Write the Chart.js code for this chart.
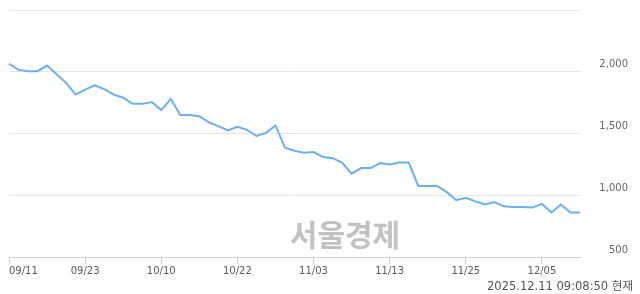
<!DOCTYPE html>
<html>
<head>
<meta charset="utf-8">
<script src="https://cdn.jsdelivr.net/npm/chart.js@4"></script>
<style>
  html, body { margin: 0; padding: 0; background: #fff; }
  #wrap { position: relative; width: 640px; height: 294px; overflow: hidden; }
  #c { position: absolute; left: 0; top: 0; }
  #wm { position: absolute; left: 245px; top: 215px; width: 200px; text-align: center;
        font-family: "Noto Sans CJK KR", sans-serif; font-weight: 700; font-size: 30px;
        line-height: 36px; color: #c2c2c2; }
  #ts { position: absolute; right: 7px; top: 279px; font-family: "DejaVu Sans", "Noto Sans CJK KR", sans-serif;
        font-size: 11.5px; line-height: 14px; color: #555; white-space: nowrap; }
</style>
</head>
<body>
<div id="wrap">
  <canvas id="c" width="640" height="294"></canvas>
  <div id="wm">서울경제</div>
  <div id="ts">2025.12.11 09:08:50 현재</div>
</div>
<script>
const dates = [
  '09/11','09/12','09/15','09/16','09/17','09/18','09/19','09/22','09/23','09/24','09/25','09/26','09/29','09/30',
  '10/01','10/02','10/10','10/13','10/14','10/15','10/16','10/17','10/20','10/21','10/22','10/23','10/24','10/27','10/28','10/29','10/30','10/31',
  '11/03','11/04','11/05','11/06','11/07','11/10','11/11','11/12','11/13','11/14','11/17','11/18','11/19','11/20','11/21','11/24','11/25','11/26','11/27','11/28',
  '12/01','12/02','12/03','12/04','12/05','12/08','12/09','12/10','12/11'
];
const prices = [
  2065, 2015, 2005, 2005, 2050, 1980, 1910, 1815, 1855, 1890,
  1860, 1815, 1790, 1740, 1740, 1755, 1690, 1780, 1650, 1650,
  1640, 1590, 1560, 1525, 1555, 1530, 1480, 1505, 1565, 1385,
  1360, 1345, 1350, 1310, 1300, 1265, 1175, 1220, 1220, 1260,
  1250, 1265, 1265, 1075, 1075, 1075, 1025, 960, 980, 950,
  925, 945, 910, 905, 905, 900, 930, 860, 925, 860, 860
];
const xTickLabels = ['09/11','09/23','10/10','10/22','11/03','11/13','11/25','12/05'];
const yTickValues = [500, 1000, 1500, 2000, 2500];
const yLabelValues = [500, 1000, 1500, 2000];

const AXIS_COLOR = '#c6d1e6';
const TICK_FONT = { family: '"DejaVu Sans", sans-serif', size: 10 };
const TICK_COLOR = '#5a5a5a';
const X_PAD = 1;

const firstLabelPlugin = {
  id: 'firstLabel',
  afterDraw(chart) {
    const xs = chart.scales.x;
    const idx = dates.indexOf(xTickLabels[0]);
    const px = xs.getPixelForValue(idx);
    const ctx = chart.ctx;
    ctx.save();
    ctx.font = TICK_FONT.size + 'px ' + TICK_FONT.family;
    ctx.fillStyle = TICK_COLOR;
    ctx.textAlign = 'left';
    ctx.textBaseline = 'middle';
    ctx.fillText(xTickLabels[0], px, xs.top + 7 + X_PAD + TICK_FONT.size * 1.2 / 2);
    ctx.restore();
  }
};

new Chart(document.getElementById('c'), {
  type: 'line',
  data: {
    labels: dates,
    datasets: [{
      data: prices,
      borderColor: '#6cb0f0',
      borderWidth: 2,
      pointRadius: 0,
      tension: 0,
      fill: false
    }]
  },
  options: {
    responsive: false,
    animation: false,
    events: [],
    layout: { padding: { left: 9, right: 12, top: 10, bottom: 0 } },
    plugins: { legend: { display: false }, tooltip: { enabled: false } },
    scales: {
      x: {
        type: 'category',
        offset: false,
        grid: {
          drawOnChartArea: false,
          drawTicks: true,
          tickLength: 7,
          color: (c) => (c.tick && xTickLabels.includes(dates[c.index])) ? AXIS_COLOR : 'rgba(0,0,0,0)'
        },
        border: { display: true, color: AXIS_COLOR, width: 1 },
        ticks: {
          autoSkip: false,
          maxRotation: 0,
          padding: X_PAD,
          font: TICK_FONT,
          color: TICK_COLOR,
          callback: function (v, i) {
            const lab = dates[i];
            return (xTickLabels.includes(lab) && lab !== xTickLabels[0]) ? lab : '';
          }
        },
        afterFit: (s) => { s.height = 37; }
      },
      y: {
        position: 'right',
        min: 500,
        max: 2500,
        afterBuildTicks: (s) => { s.ticks = yTickValues.map(v => ({ value: v })); },
        grid: {
          drawTicks: false,
          color: (c) => (c.tick && c.tick.value === 500) ? 'rgba(0,0,0,0)' : '#e4e4e4'
        },
        border: { display: false },
        ticks: {
          crossAlign: 'far',
          labelOffset: -7,
          font: TICK_FONT,
          color: '#666',
          callback: (v) => yLabelValues.includes(v) ? v.toLocaleString('en-US') : ''
        },
        afterFit: (s) => { s.width = 48; }
      }
    }
  },
  plugins: [firstLabelPlugin]
});
</script>
</body>
</html>
